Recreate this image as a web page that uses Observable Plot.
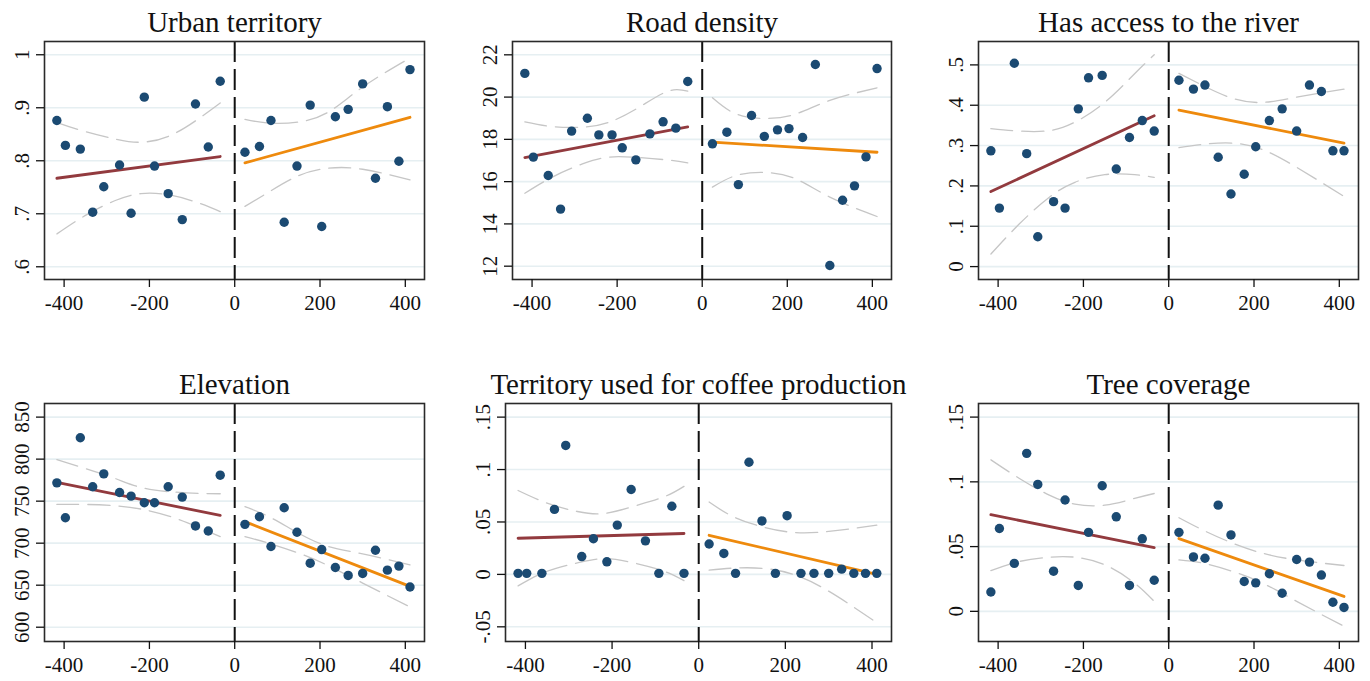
<!DOCTYPE html>
<html>
<head>
<meta charset="utf-8">
<script src="https://cdn.jsdelivr.net/npm/d3@7"></script>
<script src="https://cdn.jsdelivr.net/npm/@observablehq/plot@0.6"></script>
<style>
  html, body { margin: 0; padding: 0; background: #fff; }
  #wrap { position: relative; width: 1370px; height: 681px; background: #fff; }
  #wrap > div { position: absolute; }
</style>
</head>
<body>
<div id="wrap"></div>
<script>
// ---------- shared bin positions ----------
const binsL = [-417, -397, -362, -333, -307, -270, -243, -212, -188, -156, -123, -92, -62, -34];
const binsR = [24, 58, 85, 116, 146, 177, 204, 236, 266, 300, 330, 358, 385, 411];
const fitXL = [-417, -34];
const fitXR = [24, 411];
const ciXL = [-417, -350, -280, -220, -150, -80, -34];
const ciXR = [24, 80, 150, 220, 300, 411];
const xTicks = [-400, -200, 0, 200, 400];

// ---------- titles ----------
const titles = ["Urban territory", "Road density", "Has access to the river",
                "Elevation", "Territory used for coffee production", "Tree coverage"];

// ---------- Urban territory ----------
const urbanL = [0.876, 0.829, 0.822, 0.703, 0.751, 0.792, 0.701, 0.920, 0.790, 0.738, 0.689, 0.907, 0.826, 0.950];
const urbanR = [0.816, 0.827, 0.876, 0.684, 0.790, 0.905, 0.676, 0.883, 0.897, 0.945, 0.767, 0.902, 0.799, 0.972];
const urbanFitL = [0.767, 0.808];
const urbanFitR = [0.796, 0.882];
const urbanUpL = [0.872, 0.855, 0.841, 0.835, 0.848, 0.882, 0.909];
const urbanLoL = [0.662, 0.697, 0.725, 0.738, 0.735, 0.719, 0.704];
const urbanUpR = [0.878, 0.871, 0.873, 0.892, 0.939, 0.994];
const urbanLoR = [0.714, 0.741, 0.772, 0.786, 0.784, 0.764];
const urbanTicks = [0.6, 0.7, 0.8, 0.9, 1];
const urbanLabels = [".6", ".7", ".8", ".9", "1"];

// ---------- Road density ----------
const roadL = [21.12, 17.16, 16.29, 14.70, 18.39, 19.00, 18.21, 18.21, 17.60, 17.03, 18.26, 18.83, 18.53, 20.74];
const roadR = [17.79, 18.34, 15.86, 19.13, 18.14, 18.45, 18.51, 18.09, 21.54, 12.03, 15.12, 15.80, 17.17, 21.35];
const roadFitL = [17.14, 18.59];
const roadFitR = [17.87, 17.39];
const roadUpL = [18.83, 18.60, 18.58, 18.80, 19.50, 20.28, 20.28];
const roadLoL = [15.45, 16.24, 16.85, 17.16, 17.14, 17.02, 16.89];
const roadUpR = [19.97, 19.20, 18.99, 19.20, 19.84, 20.44];
const roadLoR = [15.74, 16.29, 16.43, 16.13, 15.27, 14.35];
const roadTicks = [12, 14, 16, 18, 20, 22];
const roadLabels = ["12", "14", "16", "18", "20", "22"];

// ---------- Has access to the river ----------
const riverL = [0.287, 0.145, 0.504, 0.280, 0.074, 0.161, 0.145, 0.391, 0.468, 0.474, 0.242, 0.320, 0.362, 0.336];
const riverR = [0.462, 0.440, 0.450, 0.271, 0.180, 0.229, 0.297, 0.362, 0.391, 0.336, 0.450, 0.434, 0.287, 0.287];
const riverFitL = [0.186, 0.374];
const riverFitR = [0.388, 0.306];
const riverUpL = [0.342, 0.336, 0.337, 0.358, 0.407, 0.478, 0.525];
const riverLoL = [0.031, 0.106, 0.172, 0.209, 0.228, 0.228, 0.221];
const riverUpR = [0.479, 0.449, 0.417, 0.407, 0.420, 0.440];
const riverLoR = [0.295, 0.303, 0.306, 0.290, 0.246, 0.174];
const riverTicks = [0, 0.1, 0.2, 0.3, 0.4, 0.5];
const riverLabels = ["0", ".1", ".2", ".3", ".4", ".5"];

// ---------- Elevation ----------
const elevL = [771.8, 730.3, 825.5, 767.1, 782.5, 760.3, 756.0, 748.1, 748.1, 767.1, 754.8, 720.5, 714.5, 780.9];
const elevR = [722.4, 731.5, 696.0, 742.2, 713.0, 676.2, 692.4, 671.1, 661.6, 664.0, 691.6, 667.9, 672.7, 647.8];
const elevFitL = [772.2, 733.1];
const elevFitR = [725.6, 648.6];
const elevUpL = [799.4, 788.8, 776.9, 766.3, 761.1, 759.2, 758.8];
const elevLoL = [746.1, 746.1, 744.5, 740.6, 731.5, 717.7, 707.8];
const elevUpR = [743.4, 731.5, 711.8, 696.0, 687.3, 674.2];
const elevLoR = [707.8, 699.9, 688.1, 673.1, 652.5, 624.1];
const elevTicks = [600, 650, 700, 750, 800, 850];
const elevLabels = ["600", "650", "700", "750", "800", "850"];

// ---------- Territory used for coffee production ----------
const coffeeL = [0.001, 0.001, 0.001, 0.062, 0.123, 0.017, 0.034, 0.012, 0.047, 0.081, 0.032, 0.001, 0.065, 0.001];
const coffeeR = [0.029, 0.020, 0.001, 0.107, 0.051, 0.001, 0.056, 0.001, 0.001, 0.001, 0.005, 0.001, 0.001, 0.001];
const coffeeFitL = [0.0345, 0.039];
const coffeeFitR = [0.0373, 0.000];
const coffeeUpL = [0.080, 0.068, 0.060, 0.058, 0.065, 0.074, 0.084];
const coffeeLoL = [-0.011, 0.003, 0.011, 0.015, 0.011, 0.003, -0.006];
const coffeeUpR = [0.069, 0.055, 0.045, 0.040, 0.041, 0.047];
const coffeeLoR = [0.004, 0.006, 0.0057, -0.0003, -0.016, -0.046];
const coffeeTicks = [-0.05, 0, 0.05, 0.1, 0.15];
const coffeeLabels = ["-.05", "0", ".05", ".1", ".15"];

// ---------- Tree coverage ----------
const treeL = [0.0149, 0.064, 0.037, 0.122, 0.098, 0.031, 0.086, 0.020, 0.061, 0.097, 0.073, 0.020, 0.056, 0.024];
const treeR = [0.061, 0.042, 0.041, 0.082, 0.059, 0.023, 0.022, 0.029, 0.014, 0.040, 0.038, 0.028, 0.007, 0.003];
const treeFitL = [0.0746, 0.0492];
const treeFitR = [0.0562, 0.0115];
const treeUpL = [0.117, 0.1026, 0.0897, 0.0828, 0.082, 0.0872, 0.091];
const treeLoL = [0.0315, 0.0385, 0.0418, 0.0418, 0.0359, 0.0218, 0.0077];
const treeUpR = [0.0723, 0.0628, 0.0526, 0.0449, 0.0397, 0.0354];
const treeLoR = [0.0397, 0.0372, 0.0308, 0.0218, 0.0077, -0.0115];
const treeTicks = [0, 0.05, 0.1, 0.15];
const treeLabels = ["0", ".05", ".1", ".15"];

// ---------- panel definitions (layout) ----------
const panels = [
  {title: titles[0], L: urbanL, R: urbanR, fL: urbanFitL, fR: urbanFitR, uL: urbanUpL, lL: urbanLoL, uR: urbanUpR, lR: urbanLoR, ticks: urbanTicks, labels: urbanLabels, yDomain: [0.576, 1.025], frameLeft: 44, frameTop: 41, frameW: 380},
  {title: titles[1], L: roadL, R: roadR, fL: roadFitL, fR: roadFitR, uL: roadUpL, lL: roadLoL, uR: roadUpR, lR: roadLoR, ticks: roadTicks, labels: roadLabels, yDomain: [11.37, 22.63], frameLeft: 512, frameTop: 41, frameW: 379},
  {title: titles[2], L: riverL, R: riverR, fL: riverFitL, fR: riverFitR, uL: riverUpL, lL: riverLoL, uR: riverUpR, lR: riverLoR, ticks: riverTicks, labels: riverLabels, yDomain: [-0.032, 0.558], frameLeft: 978, frameTop: 41, frameW: 380},
  {title: titles[3], L: elevL, R: elevR, fL: elevFitL, fR: elevFitR, uL: elevUpL, lL: elevLoL, uR: elevUpR, lR: elevLoR, ticks: elevTicks, labels: elevLabels, yDomain: [583, 866.2], frameLeft: 44, frameTop: 403, frameW: 380},
  {title: titles[4], L: coffeeL, R: coffeeR, fL: coffeeFitL, fR: coffeeFitR, uL: coffeeUpL, lL: coffeeLoL, uR: coffeeUpR, lR: coffeeLoR, ticks: coffeeTicks, labels: coffeeLabels, yDomain: [-0.064, 0.163], frameLeft: 505, frameTop: 403, frameW: 386},
  {title: titles[5], L: treeL, R: treeR, fL: treeFitL, fR: treeFitR, uL: treeUpL, lL: treeLoL, uR: treeUpR, lR: treeLoR, ticks: treeTicks, labels: treeLabels, yDomain: [-0.0233, 0.1605], frameLeft: 978, frameTop: 403, frameW: 380}
];

const FONT = "'Liberation Serif', 'DejaVu Serif', serif";
const ML = 44, MT = 41, MR = 10, MB = 38, FH = 238;
const wrap = document.getElementById("wrap");

const zip = (xs, ys) => xs.map((x, i) => ({x, y: ys[i]}));

for (const p of panels) {
  const pts = zip(binsL, p.L).concat(zip(binsR, p.R));
  const chart = Plot.plot({
    width: ML + p.frameW + MR,
    height: MT + FH + MB,
    marginLeft: ML, marginRight: MR, marginTop: MT, marginBottom: MB,
    style: {fontFamily: FONT, fontSize: "21px", color: "#111", background: "#fff", overflow: "visible"},
    x: {domain: [-446, 445], axis: null},
    y: {domain: p.yDomain, axis: null},
    marks: [
      Plot.gridY(p.ticks, {stroke: "#e6eff2", strokeOpacity: 1, strokeWidth: 1.6}),
      Plot.line(zip(ciXL, p.uL), {x: "x", y: "y", curve: "natural", stroke: "#c6c6c6", strokeWidth: 1.3, strokeDasharray: "22,9"}),
      Plot.line(zip(ciXL, p.lL), {x: "x", y: "y", curve: "natural", stroke: "#c6c6c6", strokeWidth: 1.3, strokeDasharray: "22,9"}),
      Plot.line(zip(ciXR, p.uR), {x: "x", y: "y", curve: "natural", stroke: "#c6c6c6", strokeWidth: 1.3, strokeDasharray: "22,9"}),
      Plot.line(zip(ciXR, p.lR), {x: "x", y: "y", curve: "natural", stroke: "#c6c6c6", strokeWidth: 1.3, strokeDasharray: "22,9"}),
      Plot.ruleX([0], {stroke: "#111", strokeWidth: 2, strokeDasharray: "21,7"}),
      Plot.line(zip(fitXL, p.fL), {x: "x", y: "y", stroke: "#923a3e", strokeWidth: 2.8}),
      Plot.line(zip(fitXR, p.fR), {x: "x", y: "y", stroke: "#ee8a0d", strokeWidth: 2.8}),
      Plot.dot(pts, {x: "x", y: "y", r: 4.7, fill: "#1b4a72", stroke: "none"}),
      Plot.frame({stroke: "#2a2a2a", strokeWidth: 1.6}),
      Plot.axisX({ticks: xTicks, tickSize: 8, tickPadding: 8, tickFormat: d => String(d), fontSize: 21, strokeWidth: 1.3, label: null}),
      Plot.axisY({ticks: p.ticks, tickSize: 8, tickFormat: () => "", strokeWidth: 1.3, label: null}),
      Plot.text(p.ticks, {y: d => d, text: (d, i) => p.labels[i], frameAnchor: "left", rotate: -90, dx: -16, lineAnchor: "bottom", textAnchor: "middle", fontSize: 21, fill: "#111"}),
      Plot.text([p.title], {frameAnchor: "top", dy: -10, lineAnchor: "bottom", textAnchor: "middle", fontSize: 29, fill: "#111"})
    ]
  });
  const div = document.createElement("div");
  div.style.left = (p.frameLeft - ML) + "px";
  div.style.top = (p.frameTop - MT) + "px";
  div.appendChild(chart);
  wrap.appendChild(div);
}
</script>
</body>
</html>
